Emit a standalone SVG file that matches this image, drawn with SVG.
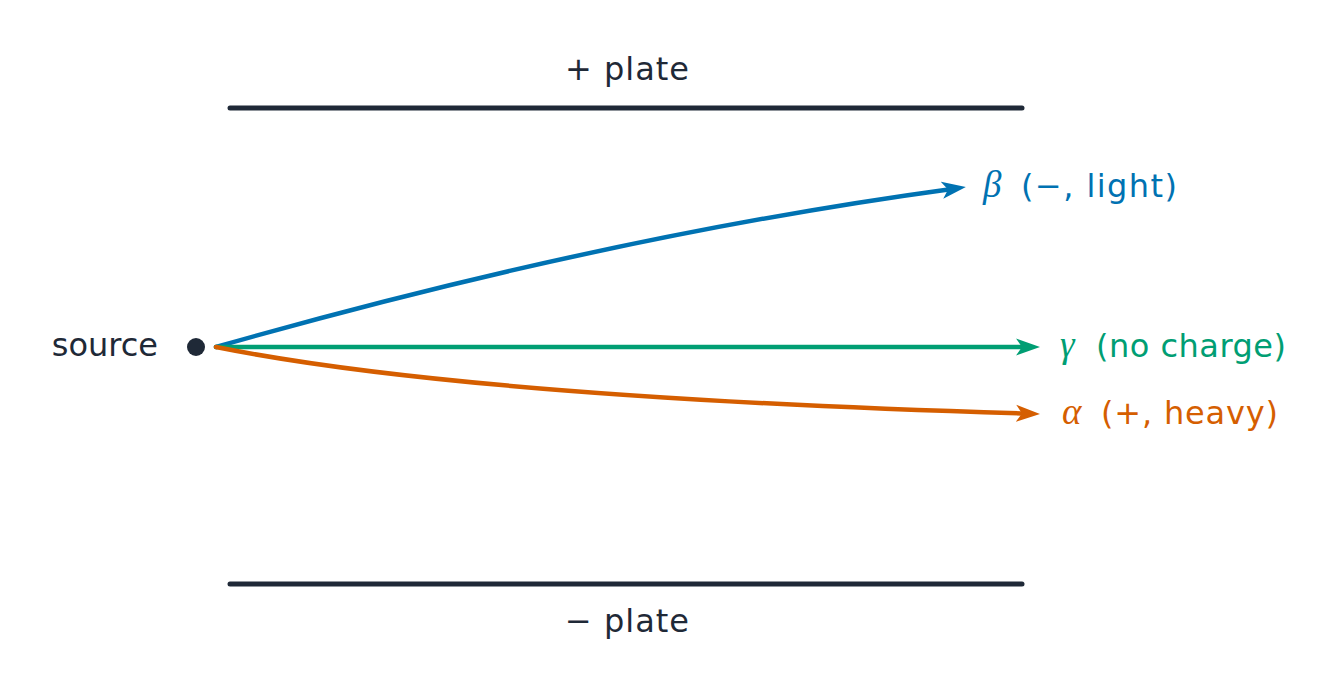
<svg xmlns="http://www.w3.org/2000/svg" width="1343" height="694" viewBox="0 0 1343 694">
<style>
.plate{stroke:#1f2937;stroke-width:5;stroke-linecap:round;fill:none}
.ray{fill:none;stroke-width:4.5;stroke-linecap:round}
.t{font-family:"DejaVu Sans","Liberation Sans",sans-serif;font-size:32px}
.g{font-family:"Liberation Serif",serif;font-style:italic;font-size:37px}
</style>
<defs>
<marker id="ab" markerUnits="userSpaceOnUse" viewBox="0 -9 24 18" refX="10" refY="0" markerWidth="24" markerHeight="18" orient="auto"><path d="M24,0 L0,-8.5 L6,0 L0,8.5 Z" fill="#0072b2"/></marker>
<marker id="ag" markerUnits="userSpaceOnUse" viewBox="0 -9 24 18" refX="10" refY="0" markerWidth="24" markerHeight="18" orient="auto"><path d="M24,0 L0,-8.5 L6,0 L0,8.5 Z" fill="#009e73"/></marker>
<marker id="ao" markerUnits="userSpaceOnUse" viewBox="0 -9 24 18" refX="10" refY="0" markerWidth="24" markerHeight="18" orient="auto"><path d="M24,0 L0,-8.5 L6,0 L0,8.5 Z" fill="#d55e00"/></marker>
</defs>
<g id="plus-plate">
<line class="plate" x1="230" y1="108" x2="1022" y2="108"/>
<text class="t" x="565" y="80" textLength="124" lengthAdjust="spacing" fill="#1f2937">+ plate</text>
</g>
<g id="minus-plate">
<line class="plate" x1="230" y1="584" x2="1022" y2="584"/>
<text class="t" x="565" y="632" textLength="124" lengthAdjust="spacing" fill="#1f2937">− plate</text>
</g>
<g id="source">
<circle cx="196" cy="347" r="9" fill="#1f2937"/>
<text class="t" x="158" y="356" text-anchor="end" fill="#1f2937">source</text>
</g>
<g id="connectors">
<path class="ray" stroke="#0072b2" d="M216,347 Q605,236 952,188.9" marker-end="url(#ab)"/>
<line class="ray" stroke="#009e73" x1="216" y1="347" x2="1026" y2="347" marker-end="url(#ag)"/>
<path class="ray" stroke="#d55e00" d="M216,347 Q465,397 1026,413.6" marker-end="url(#ao)"/>
</g>
<g id="beta-label">
<text y="197" fill="#0072b2"><tspan class="g" x="983">β</tspan><tspan class="t" x="1021" textLength="156" lengthAdjust="spacing">(−, light)</tspan></text>
</g>
<g id="gamma-label">
<text y="357" fill="#009e73"><tspan class="g" x="1060">γ</tspan><tspan class="t" x="1096" textLength="190" lengthAdjust="spacing">(no charge)</tspan></text>
</g>
<g id="alpha-label">
<text y="424" fill="#d55e00"><tspan class="g" x="1062">α</tspan><tspan class="t" x="1101" textLength="177" lengthAdjust="spacing">(+, heavy)</tspan></text>
</g>
</svg>
